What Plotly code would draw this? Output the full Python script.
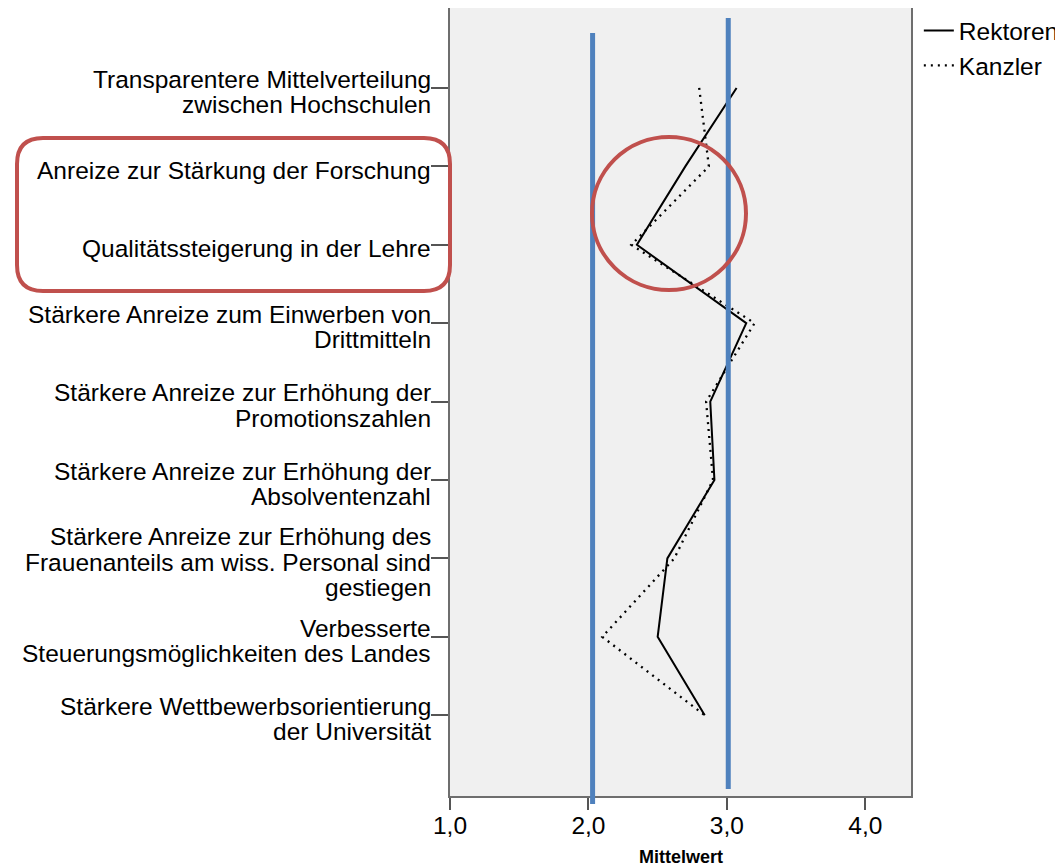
import plotly.graph_objects as go

# ---------------- data ----------------
categories = [
    "Transparentere Mittelverteilung<br>zwischen Hochschulen",
    "Anreize zur Stärkung der Forschung",
    "Qualitätssteigerung in der Lehre",
    "Stärkere Anreize zum Einwerben von<br>Drittmitteln",
    "Stärkere Anreize zur Erhöhung der<br>Promotionszahlen",
    "Stärkere Anreize zur Erhöhung der<br>Absolventenzahl",
    "Stärkere Anreize zur Erhöhung des<br>Frauenanteils am wiss. Personal sind<br>gestiegen",
    "Verbesserte<br>Steuerungsmöglichkeiten des Landes",
    "Stärkere Wettbewerbsorientierung<br>der Universität",
]
rektoren = [3.07, 2.70, 2.35, 3.14, 2.88, 2.91, 2.57, 2.50, 2.84]
kanzler = [2.80, 2.87, 2.31, 3.20, 2.85, 2.90, 2.62, 2.10, 2.84]
series_names = ["Rektoren", "Kanzler"]
x_tickvals = [1, 2, 3, 4]
x_ticktext = ["1,0", "2,0", "3,0", "4,0"]
reference_lines = [2.03, 3.01]
x_title = "Mittelwert"

# ---------------- layout geometry ----------------
PAGE_W, PAGE_H = 1063, 866
OFF = 8  # default body margin of the html page
W, H = PAGE_W - OFF, PAGE_H - OFF
L, R, T, B = 450, 911, 8, 796  # plot area in page pixels
FONT = "Liberation Sans, Arial, sans-serif"
FS = 24.5


def pxx(px):
    return (px - L) / (R - L)


def pxy(py):
    return (B - py) / (B - T)


fig = go.Figure()
fig.add_trace(go.Scatter(
    x=rektoren, y=categories, mode="lines", name=series_names[0],
    line=dict(color="black", width=2),
))
fig.add_trace(go.Scatter(
    x=kanzler, y=categories, mode="lines", name=series_names[1],
    line=dict(color="black", width=2.3, dash="2px,5px"),
))

# category labels (one annotation per text line, tight line spacing)
annotations = []
for cat in categories:
    lines = cat.split("<br>")
    n = len(lines)
    for j, ln in enumerate(lines):
        off = 4 + (j - (n - 1) / 2) * 25.5
        annotations.append(dict(
            xref="paper", x=0, xanchor="right", xshift=-17,
            yref="y", y=cat, yanchor="middle", yshift=-off,
            text=ln, showarrow=False,
            font=dict(family=FONT, size=FS, color="black"),
        ))

# axis title as annotation for exact placement
annotations.append(dict(
    xref="paper", x=0.5, xanchor="center",
    yref="paper", y=pxy(857), yanchor="middle",
    text=f"<b>{x_title}</b>", showarrow=False,
    font=dict(family=FONT, size=18, color="black"),
))

shapes = []
# blue reference lines
blue_extents = [(804, 33), (789, 18)]
for xv, (yb, yt) in zip(reference_lines, blue_extents):
    shapes.append(dict(
        type="line", xref="x", yref="paper", x0=xv, x1=xv,
        y0=pxy(yb), y1=pxy(yt),
        line=dict(color="#4F81BD", width=5), layer="above",
    ))

# red rounded rectangle around the two labels
x0, x1, y0, y1, r = 17, 450, 138, 291, 26


def P(px, py):
    return f"{pxx(px):.5f},{pxy(py):.5f}"


path = (
    f"M {P(x0 + r, y0)} L {P(x1 - r, y0)} Q {P(x1, y0)} {P(x1, y0 + r)} "
    f"L {P(x1, y1 - r)} Q {P(x1, y1)} {P(x1 - r, y1)} "
    f"L {P(x0 + r, y1)} Q {P(x0, y1)} {P(x0, y1 - r)} "
    f"L {P(x0, y0 + r)} Q {P(x0, y0)} {P(x0 + r, y0)} Z"
)
shapes.append(dict(
    type="path", xref="paper", yref="paper", path=path,
    line=dict(color="#C0504D", width=4), layer="above",
))
# red circle
shapes.append(dict(
    type="circle", xref="paper", yref="paper",
    x0=pxx(592), x1=pxx(746), y0=pxy(290), y1=pxy(137),
    line=dict(color="#C0504D", width=4), layer="above",
))

fig.update_layout(
    width=W, height=H,
    margin=dict(l=L - OFF, r=PAGE_W - R, t=T - OFF, b=PAGE_H - B,
                pad=0, autoexpand=False),
    paper_bgcolor="white",
    plot_bgcolor="#F0F0F0",
    font=dict(family=FONT, size=FS, color="black"),
    showlegend=True,
    legend=dict(
        x=1.017, y=1.0, xanchor="left", yanchor="top",
        font=dict(family=FONT, size=FS, color="black"),
        bgcolor="rgba(0,0,0,0)", tracegroupgap=0,
    ),
    annotations=annotations,
    shapes=shapes,
)
fig.update_xaxes(
    range=[1, 4.33], tickvals=x_tickvals, ticktext=x_ticktext,
    ticks="outside", ticklen=12, tickwidth=1.5, tickcolor="#555555",
    ticklabelstandoff=-5,
    showline=True, linecolor="#6E6E6E", linewidth=1.5, mirror=True,
    showgrid=False, zeroline=False, automargin=False,
    tickfont=dict(family=FONT, size=FS, color="black"),
)
fig.update_yaxes(
    type="category", categoryorder="array", categoryarray=categories,
    range=[8 + 1.03, -1.02],
    ticks="outside", ticklen=17, tickwidth=1.5, tickcolor="#555555",
    showticklabels=False, automargin=False,
    showline=True, linecolor="#6E6E6E", linewidth=1.5, mirror=True,
    showgrid=False, zeroline=False,
)

fig.write_html("out.html")
